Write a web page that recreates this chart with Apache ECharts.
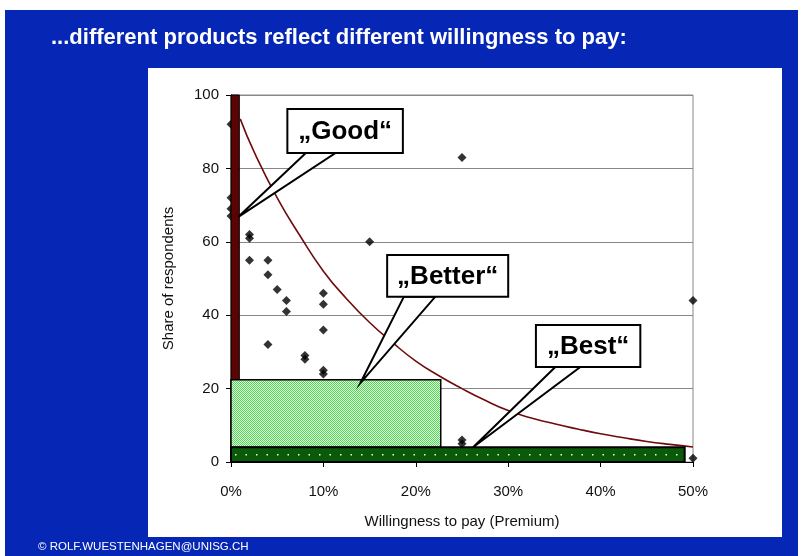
<!DOCTYPE html>
<html>
<head>
<meta charset="utf-8">
<script src="https://cdn.jsdelivr.net/npm/echarts@6/dist/echarts.min.js"></script>
<style>
  html, body { margin: 0; padding: 0; background: #fff; }
  #chart { width: 807px; height: 556px; }
</style>
</head>
<body>
<div id="chart"></div>
<script>
// survey answers: premium (%) vs share of respondents (%)
const premium = [0, 0, 0, 0, 2, 2, 2, 4, 4, 4, 5, 6, 6, 8, 8, 10, 10, 10, 10, 10, 15, 25, 25, 25, 50, 50];
const share = [92, 72, 69, 67, 62, 61, 55, 55, 51, 32, 47, 44, 41, 29, 28, 46, 43, 36, 25, 24, 60, 83, 6, 5, 44, 1];

// trend line
const trendX = [1, 2.5, 5, 7.5, 10, 12.5, 15, 17.5, 20, 22.5, 25, 27.5, 30, 32.5, 35, 37.5, 40, 42.5, 45, 47.5, 50];
const trendY = [93.5, 84.5, 72, 61.5, 52, 44.5, 38, 32.5, 27.5, 23.5, 20, 16.8, 14, 12, 10.4, 9, 7.7, 6.6, 5.6, 4.8, 4.1];

// product segments: [premium from, premium to, share from, share to]
const goodRange = [0, 0.9, 0, 100];
const betterRange = [0, 22.7, 4, 22.4];
const bestRange = [0, 49.1, 0, 4];

const productLabels = ['\u201EGood\u201C', '\u201EBetter\u201C', '\u201EBest\u201C'];

const xTicks = [0, 10, 20, 30, 40, 50];
const yTicks = [0, 20, 40, 60, 80, 100];

// callout layout, in data units
const callouts = [
  { label: productLabels[0], box: [6.1, 96.2, 18.6, 84.2], base: [8.1, 11.3], tip: [0.8, 66.8] },
  { label: productLabels[1], box: [16.9, 56.4, 30.0, 45.0], base: [18.7, 22.1], tip: [14.0, 21.5] },
  { label: productLabels[2], box: [33.0, 37.3, 44.3, 25.9], base: [35.1, 37.8], tip: [26.2, 4.0] }
];

function makePattern() {
  const c = document.createElement('canvas');
  c.width = 2;
  c.height = 2;
  const g = c.getContext('2d');
  g.fillStyle = '#e2fae2';
  g.fillRect(0, 0, 2, 2);
  g.fillStyle = '#50d650';
  g.fillRect(0, 0, 1, 1);
  g.fillRect(1, 1, 1, 1);
  return c;
}
const hatch = makePattern();

function rectOf(api, r) {
  const a = api.coord([r[0], r[3]]);
  const b = api.coord([r[1], r[2]]);
  return { x: a[0], y: a[1], width: b[0] - a[0], height: b[1] - a[1] };
}

const segments = [
  { range: goodRange, kind: 'good' },
  { range: betterRange, kind: 'better' },
  { range: bestRange, kind: 'best' }
];

const font = '"Liberation Sans", Arial, sans-serif';
const chart = echarts.init(document.getElementById('chart'));

chart.setOption({
  backgroundColor: '#fff',
  animation: false,
  graphic: [
    { type: 'rect', z: -10, shape: { x: 5, y: 10, width: 793, height: 546 }, style: { fill: '#0626b5' } },
    { type: 'rect', z: -9, shape: { x: 148, y: 68, width: 634, height: 469 }, style: { fill: '#fff' } },
    {
      type: 'text', left: 51, top: 27,
      style: { text: '...different products reflect different willingness to pay:', fill: '#fff', font: 'bold 22px ' + font }
    },
    {
      type: 'text', left: 38, top: 541,
      style: { text: '\u00A9 ROLF.WUESTENHAGEN@UNISG.CH', fill: '#fff', font: '11.5px ' + font }
    }
  ],
  grid: { left: 231, right: 114, top: 95, bottom: 94, show: true, borderColor: '#888', borderWidth: 1 },
  xAxis: {
    type: 'value', min: xTicks[0], max: xTicks[xTicks.length - 1], interval: 10,
    name: 'Willingness to pay (Premium)', nameLocation: 'middle', nameGap: 52,
    nameTextStyle: { fontFamily: font, fontSize: 15, color: '#111' },
    axisLine: { show: true, lineStyle: { color: '#000', width: 1 } },
    axisTick: { show: true, length: 5, lineStyle: { color: '#000' } },
    axisLabel: { formatter: '{value}%', fontFamily: font, fontSize: 15, color: '#111', margin: 22 },
    splitLine: { show: false }
  },
  yAxis: {
    type: 'value', min: yTicks[0], max: yTicks[yTicks.length - 1], interval: 20,
    name: 'Share of respondents', nameLocation: 'middle', nameGap: 55,
    nameTextStyle: { fontFamily: font, fontSize: 15, color: '#111' },
    axisLine: { show: true, lineStyle: { color: '#000', width: 1 } },
    axisTick: { show: true, length: 5, lineStyle: { color: '#000' } },
    axisLabel: { fontFamily: font, fontSize: 15, color: '#111', margin: 12 },
    splitLine: { show: true, lineStyle: { color: '#888', width: 1 } }
  },
  series: [
    {
      type: 'line', z: 2, smooth: true, showSymbol: false,
      data: trendX.map((x, i) => [x, trendY[i]]),
      lineStyle: { color: '#6e0c0c', width: 1.6 }
    },
    {
      type: 'scatter', z: 3, symbol: 'diamond', symbolSize: 9,
      data: premium.map((x, i) => [x, share[i]]),
      itemStyle: { color: '#000' }
    },
    {
      type: 'custom', z: 4,
      data: segments.map((s) => s.range),
      renderItem(params, api) {
        const s = segments[params.dataIndex];
        const r = rectOf(api, s.range);
        if (s.kind === 'good') {
          return { type: 'rect', shape: r, style: { fill: '#5c0303', stroke: '#000', lineWidth: 1 } };
        }
        if (s.kind === 'better') {
          return { type: 'rect', shape: r, style: { fill: { image: hatch, repeat: 'repeat' }, stroke: '#000', lineWidth: 1.5 } };
        }
        const mid = r.y + r.height / 2;
        return {
          type: 'group',
          children: [
            { type: 'rect', shape: r, style: { fill: '#0a5a0a', stroke: '#000', lineWidth: 2 } },
            { type: 'line', shape: { x1: r.x + 4, y1: mid, x2: r.x + r.width - 4, y2: mid }, style: { stroke: '#e8ffe8', lineWidth: 1.5, lineDash: [1.5, 9] } }
          ]
        };
      }
    },
    {
      type: 'custom', z: 5,
      data: callouts.map((c) => c.tip),
      renderItem(params, api) {
        const c = callouts[params.dataIndex];
        const tl = api.coord([c.box[0], c.box[1]]);
        const br = api.coord([c.box[2], c.box[3]]);
        const b1 = api.coord([c.base[0], c.box[3]]);
        const b2 = api.coord([c.base[1], c.box[3]]);
        const tip = api.coord(c.tip);
        return {
          type: 'group',
          children: [
            { type: 'polygon', shape: { points: [b1, tip, b2] }, style: { fill: '#fff', stroke: '#000', lineWidth: 2 } },
            { type: 'rect', shape: { x: tl[0], y: tl[1], width: br[0] - tl[0], height: br[1] - tl[1] }, style: { fill: '#fff', stroke: '#000', lineWidth: 2 } },
            {
              type: 'text',
              style: {
                text: c.label, x: (tl[0] + br[0]) / 2, y: (tl[1] + br[1]) / 2 + 1,
                align: 'center', verticalAlign: 'middle', fill: '#000', font: 'bold 26px ' + font
              }
            }
          ]
        };
      }
    }
  ]
});
</script>
</body>
</html>
